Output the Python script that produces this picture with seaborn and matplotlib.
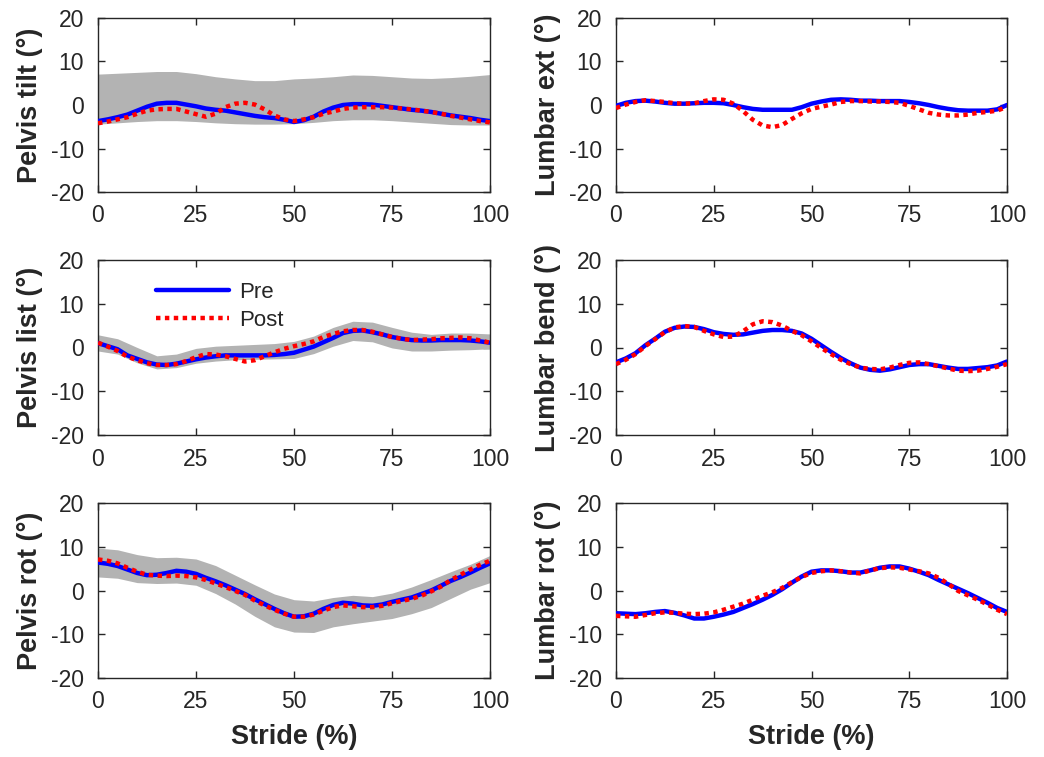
import numpy as np
import pandas as pd
import matplotlib
matplotlib.use("Agg")
import matplotlib.pyplot as plt
import seaborn as sns

# ---------------- data ----------------
stride = [0, 2.5, 5, 7.5, 10, 12.5, 15, 17.5, 20, 22.5, 25, 27.5, 30, 32.5, 35, 37.5,
          40, 42.5, 45, 47.5, 50, 52.5, 55, 57.5, 60, 62.5, 65, 67.5, 70, 72.5, 75,
          77.5, 80, 82.5, 85, 87.5, 90, 92.5, 95, 97.5, 100]
stride_band = [0, 5, 10, 15, 20, 25, 30, 35, 40, 45, 50, 55, 60, 65, 70, 75, 80, 85, 90, 95, 100]

pelvis_tilt_pre = [-3.7, -3.3, -2.8, -2.2, -1.3, -0.4, 0.3, 0.5, 0.5, 0.1, -0.3, -0.8, -1.1, -1.3,
                   -1.7, -2.1, -2.5, -2.8, -3.0, -3.4, -3.9, -3.5, -2.7, -1.5, -0.6, 0.0, 0.2,
                   0.2, 0.1, -0.2, -0.5, -0.8, -1.1, -1.3, -1.6, -2.0, -2.4, -2.7, -3.0, -3.4, -3.7]
pelvis_tilt_post = [-4.2, -3.8, -3.3, -2.8, -2.0, -1.3, -1.0, -0.9, -0.9, -1.5, -2.1, -2.7, -2.0,
                    -0.5, 0.3, 0.5, 0.1, -1.0, -2.4, -3.3, -3.7, -3.3, -2.8, -2.0, -1.5, -0.9,
                    -0.6, -0.5, -0.5, -0.5, -0.6, -0.8, -1.0, -1.3, -1.6, -2.0, -2.5, -2.9, -3.3,
                    -3.7, -4.0]
pelvis_tilt_hi = [7.1, 7.3, 7.5, 7.7, 7.7, 7.2, 6.5, 6.0, 5.6, 5.6, 6.0,
                  6.2, 6.5, 6.9, 6.8, 6.5, 6.2, 6.1, 6.3, 6.6, 7.0]
pelvis_tilt_lo = [-4.4, -4.1, -3.8, -3.6, -3.6, -3.8, -4.1, -4.3, -4.4, -4.4, -4.3,
                  -4.0, -3.6, -3.4, -3.4, -3.6, -3.9, -4.2, -4.5, -4.6, -4.6]

lumbar_ext_pre = [-0.2, 0.5, 0.9, 1.0, 0.8, 0.5, 0.3, 0.3, 0.4, 0.5, 0.5, 0.4, 0.0, -0.5, -0.9,
                  -1.1, -1.1, -1.1, -1.1, -0.5, 0.3, 0.8, 1.2, 1.3, 1.2, 1.0, 1.0, 0.9, 0.9,
                  0.9, 0.7, 0.4, 0.0, -0.5, -0.9, -1.2, -1.3, -1.3, -1.3, -1.0, 0.0]
lumbar_ext_post = [-0.7, 0.1, 0.7, 1.1, 0.9, 0.7, 0.4, 0.3, 0.4, 0.9, 1.3, 1.2, 0.3, -1.4, -3.4,
                   -4.7, -5.1, -4.6, -3.2, -1.9, -0.9, -0.4, 0.1, 0.7, 0.9, 0.9, 0.8, 0.8, 0.7,
                   0.5, -0.2, -1.0, -1.8, -2.2, -2.4, -2.4, -2.2, -1.8, -1.6, -1.3, -0.4]

pelvis_list_pre = [1.0, 0.3, -0.4, -1.8, -2.6, -3.4, -3.9, -4.0, -3.7, -3.2, -2.7, -2.3, -2.0,
                   -1.8, -1.8, -1.8, -1.8, -1.8, -1.7, -1.5, -1.2, -0.5, 0.2, 1.2, 2.2, 3.3,
                   3.8, 3.9, 3.5, 3.0, 2.4, 2.0, 1.7, 1.6, 1.6, 1.7, 1.7, 1.7, 1.6, 1.4, 1.1]
pelvis_list_post = [1.1, 0.2, -0.8, -2.1, -2.9, -3.6, -4.0, -4.0, -3.8, -3.1, -2.2, -1.5, -1.6,
                    -2.0, -2.6, -3.2, -2.9, -2.0, -1.1, -0.3, 0.3, 0.8, 1.4, 2.4, 3.1, 3.7,
                    4.0, 4.0, 3.6, 3.0, 2.4, 2.0, 1.7, 1.8, 1.9, 2.1, 2.2, 2.3, 2.1, 1.6, 1.1]
pelvis_list_hi = [2.9, 2.0, 0.0, -1.9, -1.5, -0.2, 0.3, 0.5, 0.7, 0.9, 1.4,
                  2.6, 4.6, 6.0, 5.8, 4.6, 3.5, 3.0, 3.3, 3.3, 3.1]
pelvis_list_lo = [-0.8, -1.5, -3.5, -4.9, -4.6, -3.6, -3.1, -2.8, -2.7, -2.6, -2.5,
                  -1.4, 0.3, 1.6, 1.3, -0.1, -0.8, -0.8, -0.6, -0.5, -0.3]

lumbar_bend_pre = [-3.4, -2.5, -1.3, 0.5, 2.0, 3.6, 4.5, 4.8, 4.7, 4.2, 3.5, 3.1, 2.9, 3.0, 3.4,
                   3.8, 4.0, 4.0, 3.8, 3.2, 2.0, 0.5, -1.0, -2.4, -3.6, -4.6, -5.1, -5.3, -5.0,
                   -4.5, -4.0, -3.8, -3.8, -4.2, -4.6, -4.9, -4.9, -4.7, -4.5, -4.1, -3.2]
lumbar_bend_post = [-3.8, -2.8, -1.5, 0.3, 1.9, 3.5, 4.6, 4.9, 4.7, 3.8, 3.0, 2.4, 2.5, 3.7, 5.3,
                    6.0, 5.8, 5.0, 3.8, 2.8, 1.4, -0.1, -1.5, -2.8, -3.8, -4.6, -4.9, -5.0, -4.6,
                    -4.0, -3.5, -3.4, -3.8, -4.3, -4.8, -5.3, -5.4, -5.3, -4.9, -4.4, -3.8]

pelvis_rot_pre = [6.4, 6.1, 5.6, 4.8, 4.0, 3.5, 3.6, 4.0, 4.5, 4.3, 3.8, 2.9, 2.1, 1.2, 0.2, -0.8,
                  -2.0, -3.1, -4.2, -5.2, -6.0, -5.9, -5.3, -4.2, -3.3, -2.8, -3.0, -3.4, -3.5,
                  -3.2, -2.6, -2.1, -1.6, -0.8, 0.0, 1.1, 2.2, 3.1, 4.1, 5.2, 6.2]
pelvis_rot_post = [7.1, 6.8, 6.2, 5.2, 4.3, 3.6, 3.4, 3.3, 3.4, 3.3, 3.0, 2.4, 1.6, 0.8, -0.1,
                   -1.0, -2.3, -3.4, -4.4, -5.3, -6.0, -6.0, -5.5, -4.6, -3.8, -3.4, -3.6, -3.8,
                   -3.8, -3.5, -2.9, -2.4, -1.9, -1.2, -0.2, 0.9, 2.4, 3.6, 4.8, 5.9, 6.8]
pelvis_rot_hi = [9.7, 9.3, 8.2, 7.5, 7.6, 7.2, 5.7, 3.5, 1.3, -0.8, -2.1,
                 -2.4, -1.6, -1.1, -1.4, -0.6, 0.8, 2.5, 4.3, 6.0, 8.0]
pelvis_rot_lo = [3.1, 2.8, 1.8, 1.6, 1.7, 1.2, -0.7, -3.1, -5.9, -8.3, -9.5,
                 -9.6, -8.3, -7.6, -7.0, -6.4, -5.3, -3.9, -1.8, 0.3, 1.8]

lumbar_rot_pre = [-5.2, -5.3, -5.4, -5.2, -4.9, -4.7, -5.1, -5.7, -6.4, -6.4, -6.0, -5.5, -4.9,
                  -4.0, -3.1, -2.1, -1.0, 0.3, 1.8, 3.2, 4.3, 4.6, 4.6, 4.4, 4.1, 4.1, 4.6, 5.2,
                  5.5, 5.5, 5.0, 4.3, 3.5, 2.4, 1.4, 0.4, -0.6, -1.7, -2.8, -4.0, -4.9]
lumbar_rot_post = [-5.8, -5.9, -6.0, -5.6, -5.2, -5.0, -5.1, -5.3, -5.4, -5.3, -5.0, -4.4, -3.7,
                   -3.0, -2.1, -1.2, -0.4, 0.6, 1.9, 3.1, 4.0, 4.4, 4.6, 4.4, 4.1, 3.9, 4.6, 5.1,
                   5.3, 5.2, 4.8, 4.4, 3.9, 2.9, 1.5, -0.1, -1.1, -2.1, -3.2, -4.4, -5.4]

ylabels = ["Pelvis tilt (°)", "Lumbar ext (°)", "Pelvis list (°)",
           "Lumbar bend (°)", "Pelvis rot (°)", "Lumbar rot (°)"]
xticks = [0, 25, 50, 75, 100]
yticks = [-20, -10, 0, 10, 20]
conditions = ["Pre", "Post"]

panels = [
    (pelvis_tilt_pre, pelvis_tilt_post, pelvis_tilt_lo, pelvis_tilt_hi),
    (lumbar_ext_pre, lumbar_ext_post, None, None),
    (pelvis_list_pre, pelvis_list_post, pelvis_list_lo, pelvis_list_hi),
    (lumbar_bend_pre, lumbar_bend_post, None, None),
    (pelvis_rot_pre, pelvis_rot_post, pelvis_rot_lo, pelvis_rot_hi),
    (lumbar_rot_pre, lumbar_rot_post, None, None),
]

# ---------------- style ----------------
sns.set_style("ticks")
plt.rcParams['font.family'] = ['Liberation Sans', 'DejaVu Sans']
plt.rcParams['axes.unicode_minus'] = False

W, H = 1044, 757
fig = plt.figure(figsize=(W / 100, H / 100), dpi=100)

col_x = [(98, 490), (616, 1007)]
row_y = [(18, 192), (260, 435), (503, 678)]
axis_color = "#262626"

for i, (pre, post, lo, hi) in enumerate(panels):
    r, c = divmod(i, 2)
    x0, x1 = col_x[c]
    y0, y1 = row_y[r]
    ax = fig.add_axes([x0 / W, 1 - y1 / H, (x1 - x0) / W, (y1 - y0) / H])

    if lo is not None:
        ax.fill_between(stride_band, lo, hi, color="#b3b3b3", linewidth=0, zorder=1)

    df = pd.DataFrame({
        "Stride": stride * 2,
        "Angle": list(pre) + list(post),
        "Condition": ["Pre"] * len(stride) + ["Post"] * len(stride),
    })
    sns.lineplot(data=df, x="Stride", y="Angle", hue="Condition", style="Condition",
                 hue_order=conditions, style_order=conditions,
                 palette={"Pre": "#0000ff", "Post": "#ff0000"},
                 dashes={"Pre": "", "Post": (1, 1)},
                 linewidth=3.2, ax=ax, legend=False, zorder=3)
    for ln in ax.get_lines():
        ln.set_solid_joinstyle("round")

    ax.set_xlim(0, 100)
    ax.set_ylim(-20, 20)
    ax.set_xticks(xticks)
    ax.set_yticks(yticks)
    ax.tick_params(direction="in", top=True, right=True, length=5, width=1,
                   color=axis_color, labelcolor=axis_color, labelsize=16.5)
    ax.tick_params(axis="y", pad=10)
    ax.tick_params(axis="x", pad=9)
    for sp in ax.spines.values():
        sp.set_visible(True)
        sp.set_color(axis_color)
        sp.set_linewidth(1)

    ax.set_ylabel(ylabels[i], fontsize=19.5, fontweight="bold", color=axis_color)
    ax.yaxis.set_label_coords(-0.14, 0.5)
    if r == 2:
        ax.set_xlabel("Stride (%)", fontsize=19.5, fontweight="bold", color=axis_color)
        ax.xaxis.set_label_coords(0.5, -0.26)
    else:
        ax.set_xlabel("")

    if i == 2:
        lines = ax.get_lines()[:2]
        ax.legend(lines, conditions, loc="upper left", bbox_to_anchor=(0.125, 0.925),
                  frameon=False, fontsize=16, handlelength=3.3, handletextpad=0.45,
                  labelspacing=0.3, borderaxespad=0.0)

fig.savefig("out.png", dpi=100)
